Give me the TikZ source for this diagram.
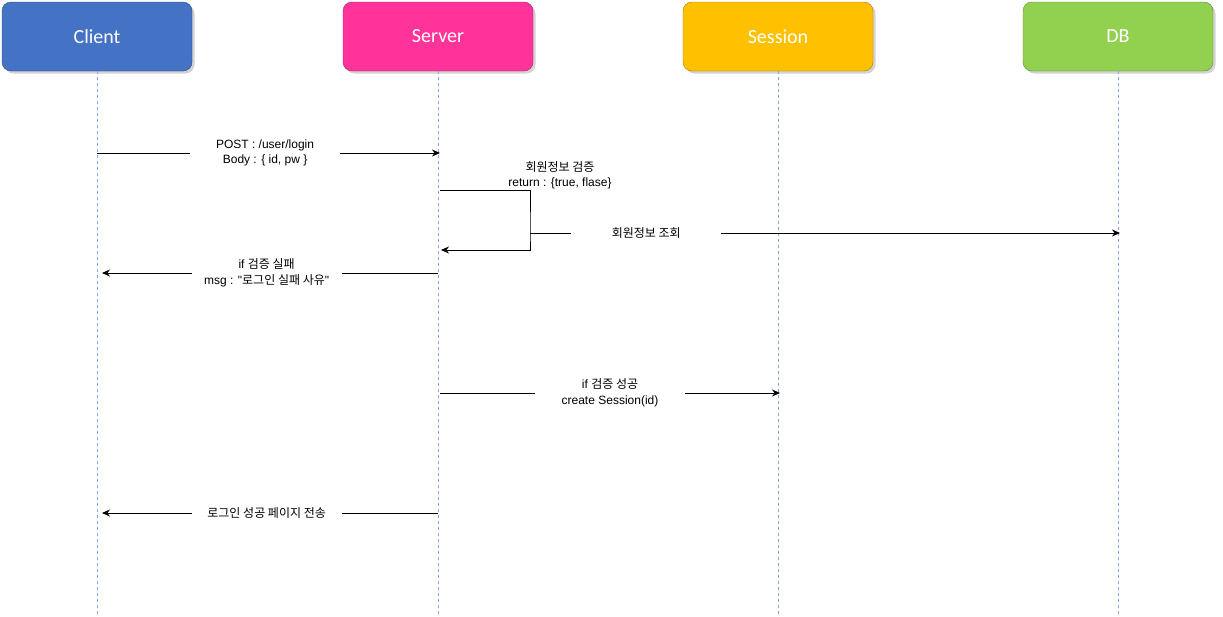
\documentclass[tikz,border=0pt]{standalone}
\usepackage{fontspec}
\setmainfont{Liberation Sans}[Ligatures=TeXOff]
\newfontfamily\kr{Noto Sans CJK KR}
\newfontfamily\titlefont{Carlito}
\usetikzlibrary{arrows.meta,shadows}

\definecolor{clientblue}{HTML}{4472C4}
\definecolor{serverpink}{HTML}{FF3399}
\definecolor{sessionyellow}{HTML}{FFC000}
\definecolor{dbgreen}{HTML}{92D050}
\definecolor{lineblue}{HTML}{7EA6E0}

\tikzset{
  actor/.style={draw=#1!65!black, fill=#1, rounded corners=9pt,
    minimum width=190pt, minimum height=69pt, text=white,
    font=\titlefont\fontsize{20}{24}\selectfont,
    drop shadow={opacity=0.35, shadow xshift=2.5pt, shadow yshift=-2.5pt}},
  lifeline/.style={draw=lineblue, dash pattern=on 3pt off 3pt, line width=0.9pt},
  msg/.style={-{Stealth[length=8pt,width=7pt]}, line width=0.9pt},
  lbl/.style={fill=white, align=center, minimum width=150pt,
    font=\fontsize{12}{15.5}\selectfont, inner sep=1pt}
}

\begin{document}
\begin{tikzpicture}[x=1pt,y=-1pt]
\useasboundingbox (0,0) rectangle (1223,616);

% participants
\node[actor=clientblue] (client) at (97,36.5) {Client};
\node[actor=serverpink] (server) at (438,36.5) {Server};
\node[actor=sessionyellow] (session) at (778,36.5) {Session};
\node[actor=dbgreen] (db) at (1118,36.5) {DB};

% lifelines
\coordinate (bottom) at (0,616);
\foreach \who in {client,server,session,db}
  \draw[lifeline] (\who.south) -- (\who |- bottom);

% message heights
\coordinate (m1) at (0,153);
\coordinate (m2) at (0,190);
\coordinate (m3) at (0,250);
\coordinate (q) at (530,233);
\coordinate (m4) at (0,273);
\coordinate (m5) at (0,393);
\coordinate (m6) at (0,513);

\draw[msg] (client |- m1) -- node[lbl,pos=.49] {POST : /user/login\\Body : \{ id, pw \}} ([xshift=2pt]server |- m1);

\draw[msg] ([xshift=2pt]server |- m2) -| (q) |- ([xshift=3pt]server |- m3);
\node[lbl] (check) at (560,175.5) {{\kr 회원정보 검증}\\return : \{true, flase\}};

\draw[msg] (q) -- node[lbl,pos=.197] {\kr 회원정보 조회} ([xshift=2pt]db |- q);

\draw[msg] (server |- m4) -- node[lbl,pos=.51] {if {\kr 검증 실패}\\msg : "{\kr 로그인 실패 사유}"} ([xshift=5pt]client |- m4);

\draw[msg] ([xshift=2pt]server |- m5) -- node[lbl,pos=.5] {if {\kr 검증 성공}\\create Session(id)} ([xshift=2pt]session |- m5);

\draw[msg] (server |- m6) -- node[lbl,pos=.51] {\kr 로그인 성공 페이지 전송} ([xshift=5pt]client |- m6);
\end{tikzpicture}
\end{document}
